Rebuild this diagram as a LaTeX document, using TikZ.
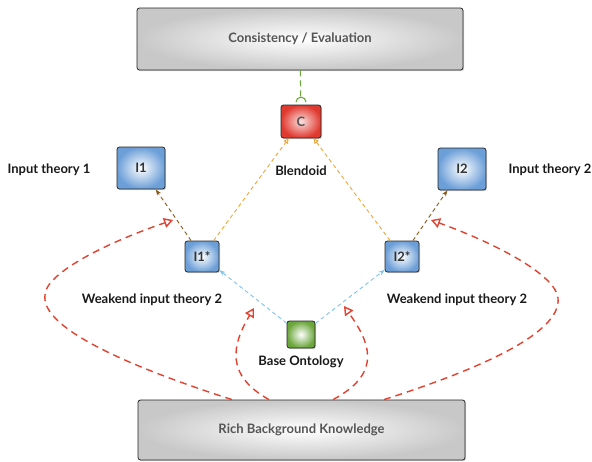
\documentclass[tikz,border=0pt]{standalone}
\usepackage{fontspec}
\setmainfont{Lato}
\usetikzlibrary{arrows.meta,shadows}
\definecolor{redc}{HTML}{E2412F}
\definecolor{orangec}{HTML}{F2A531}
\definecolor{brownc}{HTML}{8B5A1A}
\definecolor{bluec}{HTML}{7DC3EC}
\definecolor{greenc}{HTML}{6BA83A}
\definecolor{boxblue}{HTML}{6C9FD8}
\definecolor{boxred}{HTML}{E0392F}
\definecolor{boxgreen}{HTML}{6AA63A}
\definecolor{boxgray}{HTML}{C8C8C8}
\definecolor{txtgray}{HTML}{555555}
\tikzset{
  box/.style={draw=black!85, line width=0.8pt, rounded corners=2.5pt, inner sep=0pt,
    drop shadow={shadow xshift=1pt, shadow yshift=-1.2pt, opacity=0.35},
    font=\fontsize{13}{15}\selectfont\bfseries},
  bigbox/.style={box, inner color=white, outer color=boxgray, text=txtgray},
  bluebox/.style={box, inner color=white, outer color=boxblue, text=black!80},
  redbox/.style={box, inner color=white!85!boxred, outer color=boxred, text=txtgray},
  greenbox/.style={box, inner color=white, outer color=boxgreen},
  lbl/.style={font=\fontsize{13}{15}\selectfont\bfseries, text=black!90},
  orangeline/.style={draw=orangec, line width=0.9pt, dash pattern=on 4pt off 3pt,
    -{Triangle[open, length=5pt, width=5pt]}},
  brownline/.style={draw=brownc, line width=0.9pt, dash pattern=on 4pt off 3pt,
    -{Stealth[length=6pt, width=4.5pt]}},
  blueline/.style={draw=bluec, line width=0.9pt, dash pattern=on 4pt off 3pt,
    -{Stealth[length=6pt, width=4.5pt]}},
  redline/.style={draw=redc, line width=1.4pt, dash pattern=on 7pt off 5pt,
    -{Triangle[open, length=9pt, width=10pt]}},
  greenline/.style={draw=greenc, line width=1.1pt, dash pattern=on 6pt off 4pt},
}
\begin{document}
\begin{tikzpicture}[x=1pt, y=-1pt]
\useasboundingbox (0,0) rectangle (592,461);

% boxes
\node[bigbox, minimum width=326pt, minimum height=62pt] (top) at (300,39) {Consistency / Evaluation};
\node[bigbox, minimum width=327pt, minimum height=60pt] (bot) at (301.5,430) {Rich Background Knowledge};
\node[redbox, minimum width=40pt, minimum height=33pt] (c) at (301,121.5) {C};
\node[bluebox, minimum width=48pt, minimum height=42pt] (i1) at (141,168) {I1};
\node[bluebox, minimum width=48pt, minimum height=42pt] (i2) at (462,169) {I2};
\node[bluebox, minimum width=34pt, minimum height=31pt] (i1s) at (202,256.5) {I1*};
\node[bluebox, minimum width=34pt, minimum height=31pt] (i2s) at (402,256.5) {I2*};
\node[greenbox, minimum width=28pt, minimum height=27pt] (base) at (301,334.5) {};

% labels
\node[lbl] (l1) at (49,170) {Input theory 1};
\node[lbl] (l2) at (550,170) {Input theory 2};
\node[lbl] (lb) at (301,171) {Blendoid};
\node[lbl] (lw1) at (152,300) {Weakend input theory 2};
\node[lbl] (lw2) at (457,300) {Weakend input theory 2};
\node[lbl] (lbo) at (301,362) {Base Ontology};

% connectors
\draw[greenline, shorten >=8pt] (top) -- (c);
\draw[greenc, line width=1.1pt] ([yshift=2.5pt]c.north) ++(-5pt,0pt) arc[start angle=180, end angle=0, radius=5pt];

\draw[orangeline] (i1s) -- (c);
\draw[orangeline] (i2s) -- (c);
\draw[brownline] (i1s) -- (i1);
\draw[brownline] (i2s) -- (i2);
\draw[blueline] (base) -- (i1s);
\draw[blueline] (base) -- (i2s);

% red curves
\coordinate (t1) at (173,220);
\coordinate (t2) at (254,308);
\coordinate (t3) at (344,306);
\coordinate (t4) at (431,220);
\draw[redline] ([xshift=-69.5pt]bot.north) .. controls (140,370) and (40,330) .. (45,295)
   .. controls (45,275) and (100,245) .. (t1);
\draw[redline] ([xshift=-32.5pt]bot.north) .. controls (225,375) and (232,345) .. (t2);
\draw[redline] ([xshift=31.5pt]bot.north) .. controls (385,372) and (368,340) .. (t3);
\draw[redline] ([xshift=82.5pt]bot.north) .. controls (470,372) and (562,335) .. (558,298)
   .. controls (556,276) and (500,245) .. (t4);
\end{tikzpicture}
\end{document}
